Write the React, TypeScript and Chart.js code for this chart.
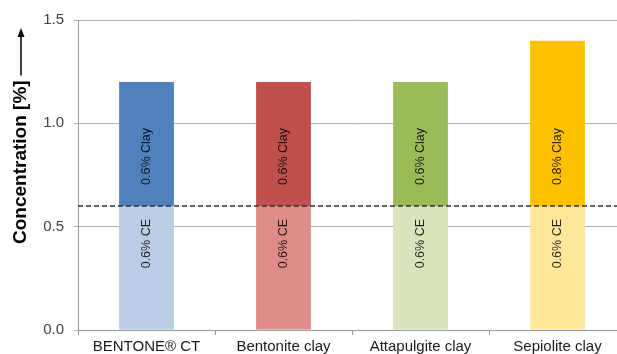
import React, { useEffect, useRef } from "react";
import { Chart, registerables } from "chart.js";

Chart.register(...registerables);

const categories = ["BENTONE® CT", "Bentonite clay", "Attapulgite clay", "Sepiolite clay"];
const ceValues = [0.6, 0.6, 0.6, 0.6];
const clayValues = [0.6, 0.6, 0.6, 0.8];
const ceColors = ["#B9CDE5", "#DE8C8A", "#D7E4BD", "#FFE699"];
const clayColors = ["#4F81BD", "#C0504D", "#9BBB59", "#FFC000"];
const thresholdValue = 0.6;
const yTicks = [0, 0.5, 1.0, 1.5];
const yTitle = "Concentration [%]";

const FONT = "'Liberation Sans', Arial, sans-serif";

const barLabelPlugin = {
  id: "barLabels",
  afterDatasetsDraw(chart: any) {
    const ctx = chart.ctx;
    ctx.save();
    ctx.font = `12.5px ${FONT}`;
    ctx.fillStyle = "rgba(0,0,0,0.85)";
    ctx.textBaseline = "middle";
    chart.data.datasets.forEach((ds: any, di: number) => {
      const meta = chart.getDatasetMeta(di);
      meta.data.forEach((el: any, i: number) => {
        const label = ds.segmentLabels[i];
        ctx.save();
        if (ds.labelAnchor === "top") {
          // text ends just below the segment's top
          ctx.translate(el.x, el.y + 13);
          ctx.textAlign = "right";
        } else {
          // text starts just above the segment's base
          ctx.translate(el.x, el.base - 21);
          ctx.textAlign = "left";
        }
        ctx.rotate(-Math.PI / 2);
        ctx.fillText(label, 0, 0);
        ctx.restore();
      });
    });
    // dashed threshold line
    const y = chart.scales.y.getPixelForValue(thresholdValue);
    ctx.strokeStyle = "#333";
    ctx.lineWidth = 1.5;
    ctx.setLineDash([5, 3]);
    ctx.beginPath();
    ctx.moveTo(chart.chartArea.left, y);
    ctx.lineTo(chart.chartArea.right, y);
    ctx.stroke();
    ctx.restore();
  },
};

const yTitlePlugin = {
  id: "yTitleArrow",
  afterDraw(chart: any) {
    const ctx = chart.ctx;
    ctx.save();
    ctx.font = `bold 19px ${FONT}`;
    ctx.fillStyle = "#000";
    ctx.textAlign = "left";
    ctx.textBaseline = "middle";
    const x = 21;
    const yStart = 244;
    const w = ctx.measureText(yTitle).width;
    ctx.save();
    ctx.translate(x, yStart);
    ctx.rotate(-Math.PI / 2);
    ctx.fillText(yTitle, 0, 0);
    ctx.restore();
    const lineBottom = yStart - w - 5;
    const tip = 28;
    ctx.strokeStyle = "#000";
    ctx.lineWidth = 1.5;
    ctx.beginPath();
    ctx.moveTo(x, lineBottom);
    ctx.lineTo(x, tip + 6);
    ctx.stroke();
    ctx.beginPath();
    ctx.moveTo(x, tip);
    ctx.lineTo(x - 3.5, tip + 9);
    ctx.lineTo(x + 3.5, tip + 9);
    ctx.closePath();
    ctx.fillStyle = "#000";
    ctx.fill();
    ctx.restore();
  },
};

export default function App() {
  const ref = useRef<HTMLCanvasElement | null>(null);
  useEffect(() => {
    if (!ref.current) return;
    const chart = new Chart(ref.current, {
      type: "bar",
      data: {
        labels: categories,
        datasets: [
          {
            label: "CE",
            data: ceValues,
            backgroundColor: ceColors,
            labelAnchor: "top",
            segmentLabels: ceValues.map((v) => `${v.toFixed(1)}% CE`),
          } as any,
          {
            label: "Clay",
            data: clayValues,
            backgroundColor: clayColors,
            labelAnchor: "base",
            segmentLabels: clayValues.map((v) => `${v.toFixed(1)}% Clay`),
          } as any,
        ],
      },
      options: {
        animation: false,
        responsive: false,
        maintainAspectRatio: false,
        layout: { padding: { top: 20, right: 4, left: 0, bottom: 0 } },
        datasets: { bar: { barPercentage: 0.4, categoryPercentage: 1 } },
        plugins: { legend: { display: false }, tooltip: { enabled: false } },
        scales: {
          x: {
            stacked: true,
            offset: true,
            grid: { offset: true, drawOnChartArea: false, tickLength: 5, color: "#999" },
            border: { color: "#999" },
            ticks: { font: { family: FONT, size: 15 }, color: "#1a1a1a", padding: 3, maxRotation: 0 },
            afterFit: (s: any) => { s.height = 24; },
          },
          y: {
            stacked: true,
            min: 0,
            max: 1.5,
            afterBuildTicks: (s: any) => { s.ticks = yTicks.map((v) => ({ value: v })); },
            grid: { color: "#b0b0b0", tickLength: 4 },
            border: { color: "#999" },
            ticks: {
              font: { family: FONT, size: 15 },
              color: "#404040",
              padding: 10,
              callback: (v: any) => Number(v).toFixed(1),
            },
            afterFit: (s: any) => { s.width = 78; },
          },
        },
      },
      plugins: [barLabelPlugin, yTitlePlugin],
    } as any);
    return () => chart.destroy();
  }, []);
  return (
    <div style={{ position: "fixed", left: 0, top: 0, width: 617, height: 354, overflow: "hidden", background: "#fff" }}>
      <canvas ref={ref} width={630} height={354} style={{ display: "block", width: 630, height: 354 }} />
    </div>
  );
}
